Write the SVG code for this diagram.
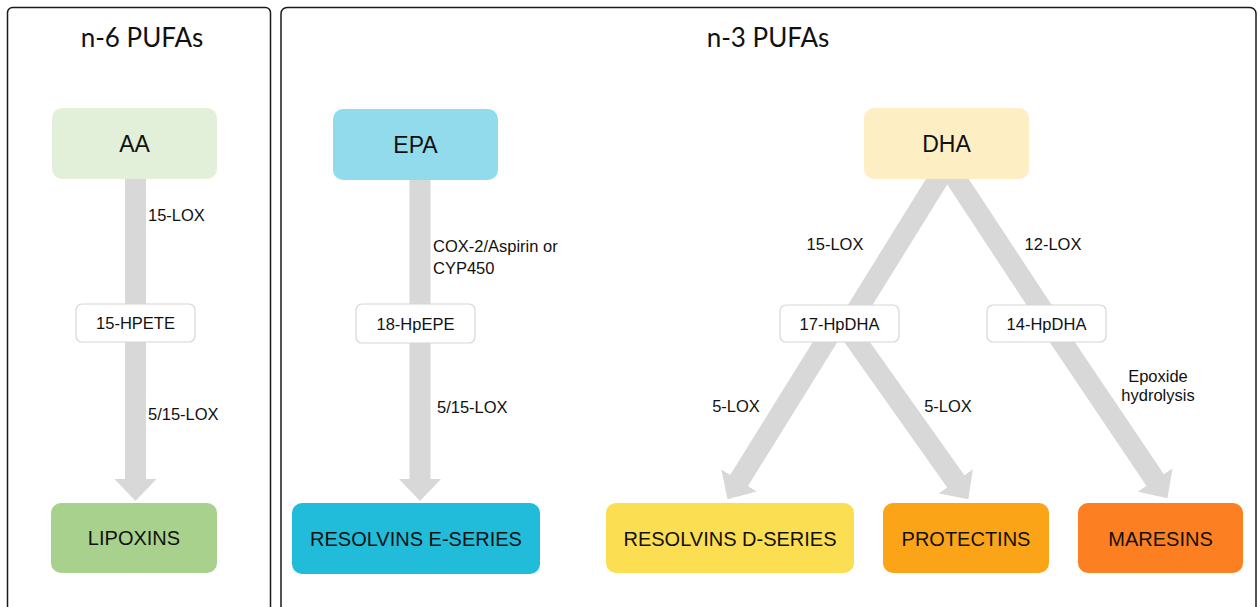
<svg xmlns="http://www.w3.org/2000/svg" width="1258" height="607" viewBox="0 0 1258 607">
<style>
.panel{fill:#fff;stroke:#1a1a1a;stroke-width:1.5}
.title{font-family:Lato,"Open Sans",sans-serif;font-size:26px;fill:#111;text-anchor:middle}
.big{stroke:none}
.mid{fill:#fff;stroke:#d6d6d6;stroke-width:1.2}
.bt{font-family:"Liberation Sans",Arial,sans-serif;font-size:20px;fill:#111;text-anchor:middle}
.st{font-family:"Liberation Sans",Arial,sans-serif;font-size:23px;fill:#111;text-anchor:middle}
.mt{font-family:"Liberation Sans",Arial,sans-serif;font-size:16.5px;fill:#111;text-anchor:middle}
.lb{font-family:"Liberation Sans",Arial,sans-serif;font-size:16.5px;fill:#111}
.arr{stroke:#d8d8d8;stroke-width:21;fill:none;stroke-linecap:butt}
</style>
<defs>
<marker id="ah" markerUnits="userSpaceOnUse" markerWidth="22" markerHeight="42" viewBox="0 0 22 42" refX="1" refY="21" orient="auto">
<path d="M0,0 L22,21 L0,42 z" fill="#d8d8d8"/>
</marker>
</defs>
<rect width="1258" height="607" fill="#fff"/>
<g id="panel-n6">
<rect class="panel" x="7.5" y="7.5" width="263" height="630" rx="5"/>
<text class="title" x="142" y="47">n-6 PUFAs</text>
</g>
<g id="panel-n3">
<rect class="panel" x="281" y="7.5" width="975" height="630" rx="6"/>
<text class="title" x="768" y="47">n-3 PUFAs</text>
</g>
<g id="connectors">
<line class="arr" x1="135.5" y1="179" x2="135.5" y2="480" marker-end="url(#ah)"/>
<line class="arr" x1="420" y1="180" x2="420" y2="480" marker-end="url(#ah)"/>
<line class="arr" x1="947" y1="165" x2="849" y2="323"/>
<line class="arr" x1="947" y1="165" x2="1051" y2="323"/>
<line class="arr" x1="840" y1="318" x2="738.6" y2="481.3" marker-end="url(#ah)"/>
<line class="arr" x1="840" y1="318" x2="956.3" y2="482.1" marker-end="url(#ah)"/>
<line class="arr" x1="1046" y1="318" x2="1155.7" y2="480.8" marker-end="url(#ah)"/>
<text class="lb" x="148" y="221">15-LOX</text>
<text class="lb" x="148" y="420">5/15-LOX</text>
<text class="lb" x="433" y="252">COX-2/Aspirin or</text>
<text class="lb" x="433" y="274">CYP450</text>
<text class="lb" x="437" y="413">5/15-LOX</text>
<text class="mt" x="835" y="250">15-LOX</text>
<text class="mt" x="1053" y="250">12-LOX</text>
<text class="mt" x="736" y="412">5-LOX</text>
<text class="mt" x="948" y="412">5-LOX</text>
<text class="mt" x="1158" y="382">Epoxide</text>
<text class="mt" x="1158" y="401">hydrolysis</text>
</g>
<g id="node-aa">
<rect class="big" x="52" y="108" width="165" height="71" rx="10" fill="#e2efd9"/>
<text class="st" x="134.5" y="152">AA</text>
</g>
<g id="node-15hpete">
<rect class="mid" x="76" y="304" width="119" height="38" rx="6"/>
<text class="mt" x="135.5" y="329">15-HPETE</text>
</g>
<g id="node-lipoxins">
<rect class="big" x="51" y="503" width="166" height="70" rx="10" fill="#a9d18e"/>
<text class="bt" x="134" y="545">LIPOXINS</text>
</g>
<g id="node-epa">
<rect class="big" x="333" y="109" width="165" height="71" rx="10" fill="#92dbec"/>
<text class="st" x="415.5" y="153">EPA</text>
</g>
<g id="node-18hpepe">
<rect class="mid" x="356" y="304" width="119" height="39" rx="6"/>
<text class="mt" x="415.5" y="330">18-HpEPE</text>
</g>
<g id="node-resolvins-e">
<rect class="big" x="292" y="503" width="248" height="71" rx="10" fill="#21bcd9"/>
<text class="bt" x="416" y="546">RESOLVINS E-SERIES</text>
</g>
<g id="node-dha">
<rect class="big" x="864" y="108" width="165" height="71" rx="10" fill="#fdeec3"/>
<text class="st" x="946.5" y="152">DHA</text>
</g>
<g id="node-17hpdha">
<rect class="mid" x="780" y="305" width="119" height="37" rx="6"/>
<text class="mt" x="839.5" y="330">17-HpDHA</text>
</g>
<g id="node-14hpdha">
<rect class="mid" x="987" y="305" width="119" height="37" rx="6"/>
<text class="mt" x="1046.5" y="330">14-HpDHA</text>
</g>
<g id="node-resolvins-d">
<rect class="big" x="606" y="503" width="248" height="70" rx="10" fill="#fcde52"/>
<text class="bt" x="730" y="546">RESOLVINS D-SERIES</text>
</g>
<g id="node-protectins">
<rect class="big" x="883" y="503" width="166" height="70" rx="10" fill="#fca417"/>
<text class="bt" x="966" y="546">PROTECTINS</text>
</g>
<g id="node-maresins">
<rect class="big" x="1078" y="503" width="165" height="70" rx="10" fill="#fc7f22"/>
<text class="bt" x="1160.5" y="546">MARESINS</text>
</g>
</svg>
